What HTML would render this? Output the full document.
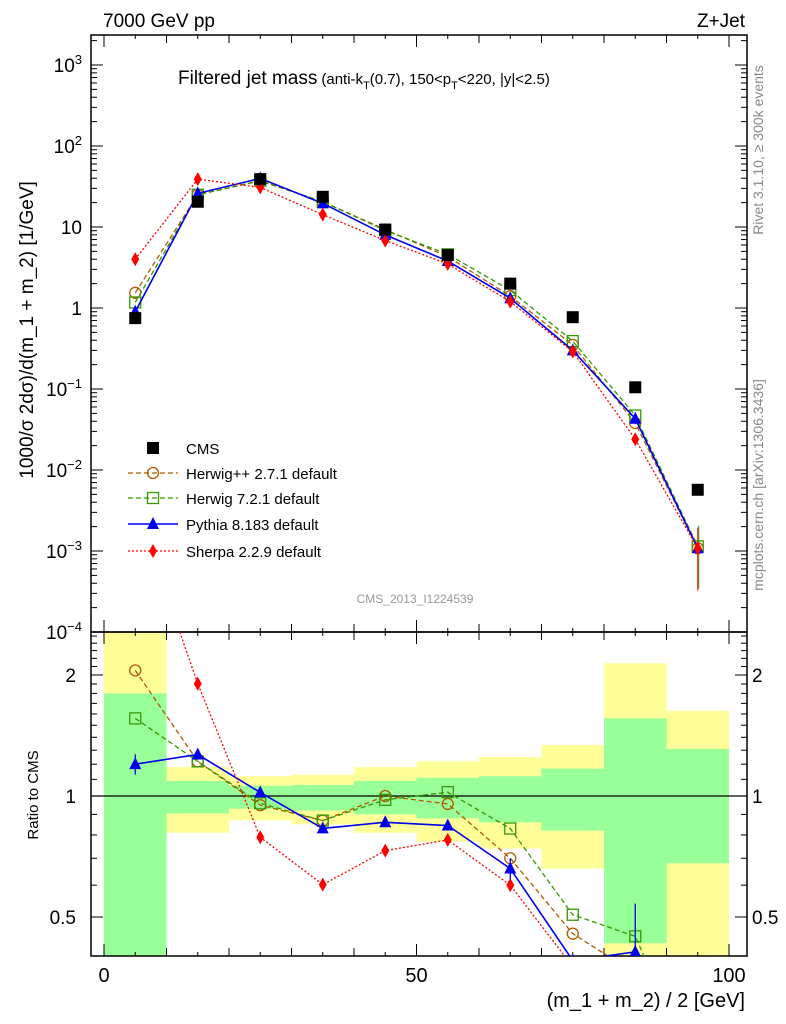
<!DOCTYPE html>
<html><head><meta charset="utf-8"><style>
html,body{margin:0;padding:0;background:#fff;width:786px;height:1024px;overflow:hidden;}
svg{display:block;font-family:"Liberation Sans",sans-serif;}
</style></head><body>
<svg id="c" width="786" height="1024" viewBox="0 0 786 1024" xmlns="http://www.w3.org/2000/svg">
<text x="103" y="27" font-size="19">7000 GeV pp</text>
<text x="745" y="27" font-size="19" text-anchor="end">Z+Jet</text>
<text x="178" y="84" font-size="19">Filtered jet mass<tspan font-size="15" dx="4">(anti-k</tspan><tspan font-size="11" dy="5">T</tspan><tspan font-size="15" dy="-5">(0.7), 150&lt;p</tspan><tspan font-size="11" dy="5">T</tspan><tspan font-size="15" dy="-5">&lt;220, |y|&lt;2.5)</tspan></text>
<text transform="translate(763,150) rotate(-90)" font-size="14" fill="#888" text-anchor="middle">Rivet 3.1.10, ≥ 300k events</text>
<text transform="translate(763,485) rotate(-90)" font-size="14" fill="#888" text-anchor="middle">mcplots.cern.ch [arXiv:1306.3436]</text>
<text x="415" y="603" font-size="12" fill="#999" text-anchor="middle">CMS_2013_I1224539</text>
<text transform="translate(33,330) rotate(-90)" font-size="19" text-anchor="middle">1000/σ 2dσ)/d(m_1 + m_2) [1/GeV]</text>
<text transform="translate(38,795) rotate(-90)" font-size="15" text-anchor="middle">Ratio to CMS</text>
<text x="745" y="1007" font-size="20" text-anchor="end">(m_1 + m_2) / 2 [GeV]</text>
<g id="bands"></g><g id="grid"></g><g id="marks"></g><g id="legend"></g>
</svg>
<script>
const centers=[5,15,25,35,45,55,65,75,85,95];
const cms=[0.75,20.5,39,23.6,9.3,4.5,2.0,0.77,0.105,0.0057];
const herwigpp=[1.54,25.0,37.0,20.5,9.3,4.3,1.4,0.35,0.038,0.00108];
const herwig7=[1.17,25.0,37.4,20.5,9.1,4.6,1.66,0.39,0.047,0.00114];
const pythia=[0.9,26.0,39.8,19.6,8.0,3.8,1.32,0.30,0.043,0.00108];
const sherpa=[4.0,39.0,30.8,14.2,6.8,3.5,1.2,0.29,0.024,0.00108];
const greenLo=[0.3,0.905,0.93,0.92,0.90,0.88,0.86,0.82,0.43,0.68];
const greenHi=[1.80,1.09,1.06,1.065,1.09,1.11,1.12,1.17,1.56,1.31];
const yellowLo=[0.3,0.81,0.87,0.85,0.81,0.77,0.74,0.66,0.3,0.3];
const yellowHi=[3,1.18,1.12,1.13,1.18,1.22,1.25,1.34,2.14,1.63];
const xTickLabels=[0,50,100];
const ratioTickLabels=[0.5,1,2];

const NS="http://www.w3.org/2000/svg";
const L=91,R=747,T=35,MB=632,RB=956;
const X=v=>104+v*6.25;
const Y=v=>632-81*(Math.log10(v)+4);
const RY=v=>796-121*Math.log2(v);
function mk(p,tag,a){const e=document.createElementNS(NS,tag);for(const k in a)e.setAttribute(k,a[k]);p.appendChild(e);return e;}
const bands=document.getElementById('bands'),grid=document.getElementById('grid'),marks=document.getElementById('marks'),leg=document.getElementById('legend');
const clipR=(v)=>Math.max(MB,Math.min(RB,v));
centers.forEach((c,i)=>{
 let y1=clipR(RY(yellowHi[i])),y2=clipR(RY(yellowLo[i]));
 let r=mk(bands,'rect',{x:X(c-5),y:y1,width:62.5,height:y2-y1,fill:'#ffff99'});
 
 
 y1=clipR(RY(greenHi[i]));y2=clipR(RY(greenLo[i]));
 r=mk(bands,'rect',{x:X(c-5),y:y1,width:62.5,height:y2-y1,fill:'#99ff99'});
 
 
});
mk(grid,'rect',{x:L,y:T,width:R-L,height:MB-T,fill:'none',stroke:'#000','stroke-width':1.5});
mk(grid,'rect',{x:L,y:MB,width:R-L,height:RB-MB,fill:'none',stroke:'#000','stroke-width':1.5});
mk(grid,'line',{x1:L,x2:R,y1:RY(1),y2:RY(1),stroke:'#000','stroke-width':1.2});
for(let v=0;v<=100;v+=5){
 const len=v%50==0?12:(v%10==0?8:4);
 [MB,RB].forEach(yb=>{mk(grid,'line',{x1:X(v),x2:X(v),y1:yb,y2:yb-len,stroke:'#000'});});
 [T,MB].forEach(yt=>{mk(grid,'line',{x1:X(v),x2:X(v),y1:yt,y2:yt+len,stroke:'#000'});});
}
xTickLabels.forEach(v=>{const t=mk(grid,'text',{x:X(v),y:982,'font-size':20,'text-anchor':'middle'});t.textContent=v;
 
 });
for(let e=-4;e<=3;e++){
 for(let m=1;m<10;m++){const v=m*Math.pow(10,e);const y=Y(v);if(y<T||y>MB)continue;
  const len=m==1?12:6;
  mk(grid,'line',{x1:L,x2:L+len,y1:y,y2:y,stroke:'#000'});mk(grid,'line',{x1:R,x2:R-len,y1:y,y2:y,stroke:'#000'});}
 const t=mk(grid,'text',{x:82,y:Y(Math.pow(10,e))+7,'font-size':19,'text-anchor':'end'});
 
 
 if(e==0)t.textContent='1';else if(e==1)t.textContent='10';
 else{t.textContent='10';const s=mk(t,'tspan',{dy:-8,'font-size':13});s.textContent=String(e).replace('-','−');}
}
for(let v=0.4;v<=2.6;v+=0.1){const y=RY(v);if(y<=MB||y>=RB)continue;
 const maj=Math.abs(v-0.5)<1e-6||Math.abs(v-1)<1e-6||Math.abs(v-2)<1e-6;const len=maj?12:6;
 mk(grid,'line',{x1:L,x2:L+len,y1:y,y2:y,stroke:'#000'});mk(grid,'line',{x1:R,x2:R-len,y1:y,y2:y,stroke:'#000'});}
ratioTickLabels.forEach(v=>{
 let t=mk(grid,'text',{x:76,y:RY(v)+7,'font-size':19,'text-anchor':'end'});t.textContent=v;
 
 
 t=mk(grid,'text',{x:752,y:RY(v)+7,'font-size':19});t.textContent=v;
 
 });
const defs=mk(document.getElementById('c'),'defs',{});
const cp1=mk(defs,'clipPath',{id:'cm'});mk(cp1,'rect',{x:L,y:T,width:R-L,height:MB-T});
const cp2=mk(defs,'clipPath',{id:'cr'});mk(cp2,'rect',{x:L,y:MB,width:R-L,height:RB-MB});
function marker(g,type,x,y,col){
 if(type=='sq') return mk(g,'rect',{x:x-6,y:y-6,width:12,height:12,fill:'#000'});
 if(type=='circ') return mk(g,'circle',{cx:x,cy:y,r:5.5,fill:'none',stroke:col,'stroke-width':1.3});
 if(type=='osq') return mk(g,'rect',{x:x-5.5,y:y-5.5,width:11,height:11,fill:'none',stroke:col,'stroke-width':1.3});
 if(type=='tri') return mk(g,'path',{d:`M${x},${y-7}L${x+6},${y+5}L${x-6},${y+5}Z`,fill:col});
 if(type=='dia') return mk(g,'path',{d:`M${x},${y-7}L${x+4},${y}L${x},${y+7}L${x-4},${y}Z`,fill:col});
}
// clip a segment to y range [MB,RB]; returns null or [x1,y1,x2,y2]
function clipSeg(x1,y1,x2,y2){
 let t0=0,t1=1;const dy=y2-y1;
 if(dy===0){if(y1<MB||y1>RB)return null;}
 else{let ta=(MB-y1)/dy,tb=(RB-y1)/dy;if(ta>tb)[ta,tb]=[tb,ta];t0=Math.max(t0,ta);t1=Math.min(t1,tb);if(t0>t1)return null;}
 return [x1+(x2-x1)*t0,y1+dy*t0,x1+(x2-x1)*t1,y1+dy*t1];
}
const series=[
 {name:'herwigpp',vals:herwigpp,col:'#b35900',dash:'5,3',w:1.3,m:'circ',label:'Herwig++ 2.7.1 default'},
 {name:'herwig7',vals:herwig7,col:'#339900',dash:'5,3',w:1.3,m:'osq',label:'Herwig 7.2.1 default'},
 {name:'pythia',vals:pythia,col:'#0000ee',dash:'',w:1.6,m:'tri',label:'Pythia 8.183 default'},
 {name:'sherpa',vals:sherpa,col:'#ff0000',dash:'2,2',w:1.3,m:'dia',label:'Sherpa 2.2.9 default'}];
const gm=mk(marks,'g',{'clip-path':'url(#cm)'}),gr=mk(marks,'g',{'clip-path':'url(#cr)'});
[herwig7,sherpa].forEach((s,k)=>{const x=X(95)+(k?0:1);mk(gm,'line',{x1:x,x2:x,y1:Y(s[9]*0.3),y2:Y(s[9]*1.8),stroke:k?'#ff0000':'#339900'});});
series.forEach(s=>{
 const pm=centers.map((c,i)=>X(c)+','+Y(s.vals[i])).join(' ');
 let pl=mk(gm,'polyline',{points:pm,fill:'none',stroke:s.col,'stroke-width':s.w,'stroke-dasharray':s.dash});
 
 
 let d='';let last=null;
 for(let i=0;i<centers.length-1;i++){
  const seg=clipSeg(X(centers[i]),RY(s.vals[i]/cms[i]),X(centers[i+1]),RY(s.vals[i+1]/cms[i+1]));
  if(!seg){last=null;continue;}
  if(!last||Math.abs(last[0]-seg[0])>0.01||Math.abs(last[1]-seg[1])>0.01)d+=`M${seg[0]},${seg[1]}`;
  d+=`L${seg[2]},${seg[3]}`;last=[seg[2],seg[3]];
 }
 pl=mk(gr,'path',{d:d||'M0,0',fill:'none',stroke:s.col,'stroke-width':s.w,'stroke-dasharray':s.dash});
 
 
 centers.forEach((c,i)=>{
  let e=marker(gm,s.m,X(c),Y(s.vals[i]),s.col);
  
  
  const ry=RY(s.vals[i]/cms[i]);
  if(ry>=MB-7&&ry<=RB+7){
   e=marker(gr,s.m,X(c),ry,s.col);
   
   
  }
 });
});
[[0,1.27,1.13],[8,0.54,0.40],[6,0.70,0.62]].forEach(a=>{const x=X(centers[a[0]]);mk(gr,'line',{x1:x,x2:x,y1:clipR(RY(a[1])),y2:clipR(RY(a[2])),stroke:'#0000ee','stroke-width':1.3});});
centers.forEach((c,i)=>{const e=marker(gm,'sq',X(c),Y(cms[i]),'#000');
 
 });
const ly=[448,473,498,524,551];
marker(leg,'sq',153,ly[0],'#000');
const t0=mk(leg,'text',{x:186,y:ly[0]+6,'font-size':15});t0.textContent='CMS';


series.forEach((s,k)=>{const y=ly[k+1];
 mk(leg,'line',{x1:128,x2:178,y1:y,y2:y,stroke:s.col,'stroke-width':s.w,'stroke-dasharray':s.dash});
 marker(leg,s.m,153,y,s.col);
 const t=mk(leg,'text',{x:186,y:y+6,'font-size':15});t.textContent=s.label;
 
 });
</script>
</body></html>
